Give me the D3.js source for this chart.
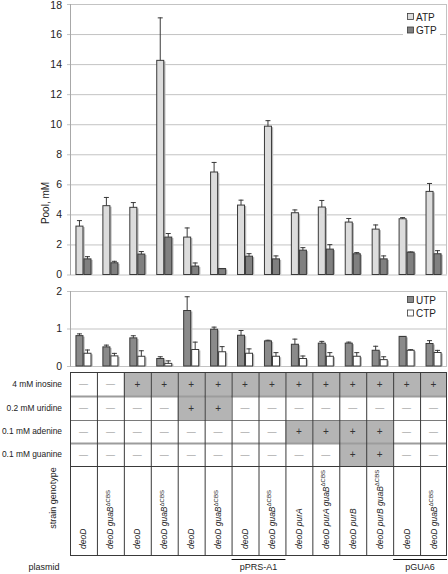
<!DOCTYPE html>
<html><head><meta charset="utf-8">
<script src="https://cdn.jsdelivr.net/npm/d3@7"></script>
<style>
body{margin:0;background:#fff;}
svg{display:block;font-family:"Liberation Sans",Arial,sans-serif;}
</style></head><body>
<svg id="c" width="448" height="574"></svg>
<script>
const categories = ["c1","c2","c3","c4","c5","c6","c7","c8","c9","c10","c11","c12","c13","c14"];
const genotypes = [
  ["deoD"],["deoD guaB","ΔCBS"],["deoD"],["deoD guaB","ΔCBS"],["deoD"],["deoD guaB","ΔCBS"],
  ["deoD"],["deoD guaB","ΔCBS"],["deoD purA"],["deoD purA guaB","ΔCBS"],["deoD purB"],
  ["deoD purB guaB","ΔCBS"],["deoD"],["deoD guaB","ΔCBS"]];
const rowLabels = ["4 mM inosine","0.2 mM uridine","0.1 mM adenine","0.1 mM guanine"];
const inosine = [0,0,1,1,1,1,1,1,1,1,1,1,1,1];
const uridine = [0,0,0,0,1,1,0,0,0,0,0,0,0,0];
const adenine = [0,0,0,0,0,0,0,0,1,1,1,1,0,0];
const guanine = [0,0,0,0,0,0,0,0,0,0,1,1,0,0];
const plasmids = [{name:"pPRS-A1",from:6,to:7},{name:"pGUA6",from:12,to:13}];

const ATP    = [3.22,4.58,4.47,14.25,2.49,6.82,4.62,9.87,4.11,4.49,3.49,3.02,3.71,5.53];
const ATPerr = [0.40,0.58,0.35,2.86,0.64,0.67,0.36,0.40,0.22,0.47,0.27,0.31,0.11,0.56];
const GTP    = [1.04,0.78,1.36,2.49,0.56,0.40,1.22,1.04,1.62,1.69,1.38,1.04,1.49,1.38];
const GTPerr = [0.18,0.13,0.20,0.27,0.24,0.02,0.20,0.23,0.20,0.33,0.11,0.23,0.04,0.24];
const UTP    = [0.81,0.51,0.75,0.20,1.48,0.98,0.82,0.67,0.58,0.61,0.61,0.42,0.79,0.60];
const UTPerr = [0.06,0.06,0.07,0.06,0.38,0.07,0.14,0.03,0.15,0.06,0.04,0.12,0.01,0.09];
const CTP    = [0.34,0.27,0.26,0.07,0.44,0.38,0.34,0.26,0.20,0.26,0.26,0.17,0.42,0.36];
const CTPerr = [0.10,0.08,0.16,0.08,0.21,0.15,0.13,0.11,0.08,0.11,0.11,0.09,0.03,0.07];
const ticksTop = [0,2,4,6,8,10,12,14,16,18];
const ticksBottom = [0,1,2];

const svg = d3.select("#c");
const L = 70, R = 447;
const x = d3.scaleBand().domain(categories).range([L, R]).padding(0);
const bw = x.bandwidth();

const GRID = "#c3c3c3", DARK = "#3a3a3a";

function panel(yScale, ticks, s1, e1, s2, e2, names, fills, legendY) {
  const g = svg.append("g");
  const [y0, yTop] = yScale.range();
  g.selectAll(".grid").data(ticks).join("line")
    .attr("x1", L - 3).attr("x2", R).attr("y1", d => yScale(d) + 0.5).attr("y2", d => yScale(d) + 0.5)
    .attr("stroke", GRID).attr("stroke-width", 1);
  g.append("line").attr("x1", L + 0.5).attr("x2", L + 0.5).attr("y1", yTop).attr("y2", y0 + 0.5).attr("stroke", "#a8a8a8");
  g.append("line").attr("x1", R - 0.5).attr("x2", R - 0.5).attr("y1", yTop).attr("y2", y0).attr("stroke", GRID);
  g.selectAll(".tl").data(ticks).join("text")
    .attr("x", 62).attr("y", d => Math.max(yScale(d), 5.5)).attr("dy", "0.35em")
    .attr("text-anchor", "end").attr("font-size", 10.5).attr("fill", "#222").text(d => d);
  const inner = d3.scaleBand().domain([0, 1]).range([0, bw]).paddingOuter(0.68).paddingInner(0);
  const iw = inner.bandwidth();
  [[s1, e1], [s2, e2]].forEach(([vals, errs], si) => {
    const gg = g.append("g");
    gg.selectAll("rect.sh").data(vals).join("rect")
      .attr("x", (d, i) => x(categories[i]) + inner(si) + 1.2)
      .attr("y", d => yScale(d) + 1)
      .attr("width", iw).attr("height", d => y0 - yScale(d) - 1)
      .attr("fill", "#b8b8b8");
    gg.selectAll("rect.b").data(vals).join("rect")
      .attr("x", (d, i) => x(categories[i]) + inner(si) + 0.5)
      .attr("y", d => yScale(d))
      .attr("width", iw - 1).attr("height", d => y0 - yScale(d))
      .attr("fill", fills[si]).attr("stroke", DARK).attr("stroke-width", 1);
    gg.selectAll("line.e").data(vals).join("line")
      .attr("x1", (d, i) => x(categories[i]) + inner(si) + iw / 2)
      .attr("x2", (d, i) => x(categories[i]) + inner(si) + iw / 2)
      .attr("y1", d => yScale(d)).attr("y2", (d, i) => yScale(d + errs[i]))
      .attr("stroke", DARK).attr("stroke-width", 1);
    gg.selectAll("line.c").data(vals).join("line")
      .attr("x1", (d, i) => x(categories[i]) + inner(si) + iw / 2 - 2.5)
      .attr("x2", (d, i) => x(categories[i]) + inner(si) + iw / 2 + 2.5)
      .attr("y1", (d, i) => yScale(d + errs[i]) + 0.5).attr("y2", (d, i) => yScale(d + errs[i]) + 0.5)
      .attr("stroke", DARK).attr("stroke-width", 1);
  });
  const lg = g.append("g");
  lg.append("rect").attr("x", 403).attr("y", legendY - 7).attr("width", 37).attr("height", 28).attr("fill", "#fff");
  names.forEach((n, i) => {
    lg.append("rect").attr("x", 407.5).attr("y", legendY - 3.5 + i * 13.5).attr("width", 6).attr("height", 6)
      .attr("fill", fills[i]).attr("stroke", DARK).attr("stroke-width", 0.8);
    lg.append("text").attr("x", 416).attr("y", legendY + i * 13.5).attr("dy", "0.35em")
      .attr("font-size", 10).attr("fill", "#222").text(n);
  });
  return g;
}

const y1 = d3.scaleLinear().domain([0, 18]).range([274.5, 4]);
panel(y1, ticksTop, ATP, ATPerr, GTP, GTPerr, ["ATP", "GTP"], ["#dcdcdc", "#808080"], 17);
svg.append("text").attr("transform", "translate(45,203) rotate(-90)")
  .attr("text-anchor", "middle").attr("dy", "0.35em").attr("font-size", 10).attr("fill", "#222").text("Pool, mM");

const y2 = d3.scaleLinear().domain([0, 2]).range([366, 291]);
panel(y2, ticksBottom, UTP, UTPerr, CTP, CTPerr, ["UTP", "CTP"], ["#8a8a8a", "#ffffff"], 300);

const rows = [inosine, uridine, adenine, guanine];
const rowY = [372, 396, 420, 443, 466];
const tbl = svg.append("g");
rows.forEach((r, ri) => {
  tbl.selectAll(null).data(r).join("rect")
    .attr("x", (d, i) => x(categories[i])).attr("y", rowY[ri])
    .attr("width", bw).attr("height", rowY[ri + 1] - rowY[ri])
    .attr("fill", d => d ? "#b4b4b4" : "#fff");
  tbl.selectAll(null).data(r).join("text")
    .attr("x", (d, i) => x(categories[i]) + bw / 2).attr("y", (rowY[ri] + rowY[ri + 1]) / 2)
    .attr("dy", "0.35em").attr("text-anchor", "middle")
    .attr("font-size", d => d ? 10 : 9).attr("fill", d => d ? "#333" : "#888")
    .text(d => d ? "+" : "—");
  tbl.append("text").attr("x", 62).attr("y", (rowY[ri] + rowY[ri + 1]) / 2).attr("dy", "0.35em")
    .attr("text-anchor", "end").attr("font-size", 8.4).attr("fill", "#222").text(rowLabels[ri]);
});
const hl = [[372, DARK, 1], [396, "#9c9c9c", 2], [420, "#7a7a7a", 1], [443, "#9c9c9c", 2], [466, DARK, 1], [555, DARK, 1]];
hl.forEach(([yy, c, w]) => tbl.append("line").attr("x1", L).attr("x2", R).attr("y1", yy + 0.5).attr("y2", yy + 0.5).attr("stroke", c).attr("stroke-width", w));
tbl.selectAll(null).data(categories.concat(["end"])).join("line")
  .attr("x1", (d, i) => i < categories.length ? x(d) + 0.5 : R - 0.5)
  .attr("x2", (d, i) => i < categories.length ? x(d) + 0.5 : R - 0.5)
  .attr("y1", 372).attr("y2", 555.5).attr("stroke", DARK).attr("stroke-width", 1);

genotypes.forEach((gt, i) => {
  const t = tbl.append("text")
    .attr("transform", `translate(${x(categories[i]) + bw / 2 + 3},549) rotate(-90)`)
    .attr("font-size", 8.5).attr("fill", "#222");
  t.append("tspan").attr("font-style", "italic").text(gt[0]);
  if (gt[1]) t.append("tspan").attr("font-size", 6).attr("dy", -3.5).text(gt[1]);
});
svg.append("text").attr("transform", "translate(53,498) rotate(-90)")
  .attr("text-anchor", "middle").attr("dy", "0.35em").attr("font-size", 9).attr("fill", "#222").text("strain genotype");
svg.append("text").attr("x", 44).attr("y", 567).attr("dy", "0.35em")
  .attr("text-anchor", "middle").attr("font-size", 9).attr("fill", "#222").text("plasmid");
plasmids.forEach(p => {
  const x0 = x(categories[p.from]), x1 = x(categories[p.to]) + bw;
  svg.append("line").attr("x1", x0).attr("x2", x1).attr("y1", 559.5).attr("y2", 559.5).attr("stroke", "#111").attr("stroke-width", 1);
  svg.append("text").attr("x", (x0 + x1) / 2).attr("y", 567).attr("dy", "0.35em")
    .attr("text-anchor", "middle").attr("font-size", 9).attr("fill", "#222").text(p.name);
});
</script>
</body></html>
